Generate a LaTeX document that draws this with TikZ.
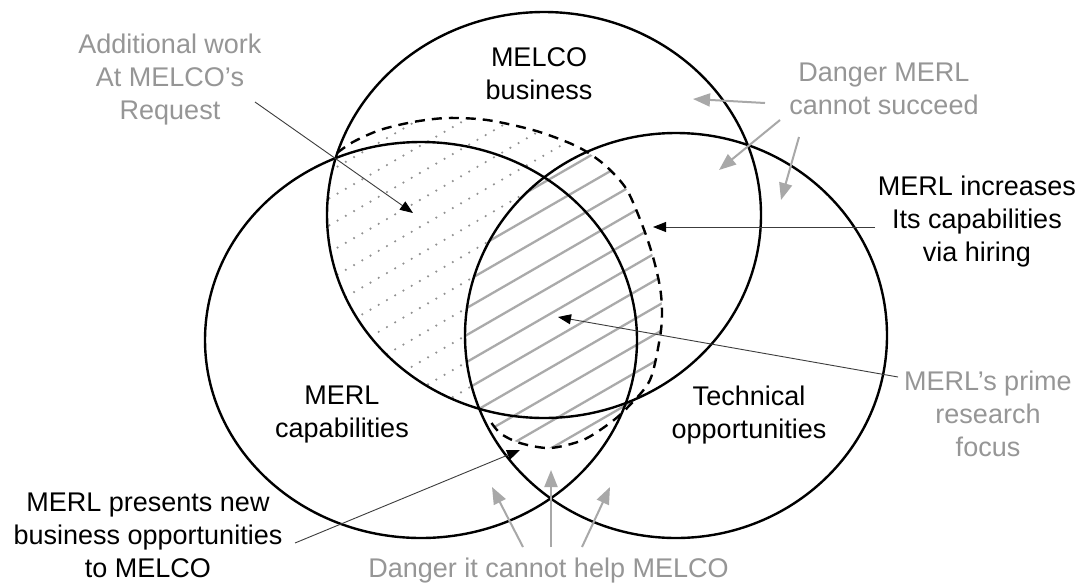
\documentclass[tikz,border=0pt]{standalone}
\usepackage{fontspec}
\setmainfont{Liberation Sans}
\usetikzlibrary{arrows.meta}
\definecolor{hatchgray}{RGB}{170,170,170}
\definecolor{dotgray}{RGB}{145,145,145}
\definecolor{txtgray}{RGB}{150,150,150}
\definecolor{argray}{RGB}{168,168,168}
\definecolor{thinline}{RGB}{60,60,60}
\begin{document}
\begin{tikzpicture}[x=1pt,y=-1pt,
  venn/.style={line width=2.4pt},
  lbl/.style={align=center, inner sep=0pt, font=\fontsize{27}{33}\selectfont},
  glbl/.style={lbl, text=txtgray},
  thinarrow/.style={draw=thinline, line width=0.9pt, -{Triangle[length=13pt,width=10pt,color=black]}},
  grayarrow/.style={draw=argray, line width=2pt, -{Triangle[length=17pt,width=13pt]}},
  hatchline/.style={draw=hatchgray, line width=2.3pt},
  dotline/.style={draw=dotgray, line width=2.4pt, line cap=round, dash pattern=on 0pt off 9.5pt},
  dashline/.style={line width=2.4pt, dash pattern=on 10pt off 7pt},
]
\useasboundingbox (0,0) rectangle (1083,584);
\fill[white] (0,0) rectangle (1083,584);

% dotted hatching: inside dashed region, outside right circle
\begin{scope}[even odd rule]
  \clip (-10,-10) rectangle (1100,600) (676,335.5) ellipse [x radius=211, y radius=202.5];
  \begin{scope}[nonzero rule]
  \clip plot[smooth] coordinates {(337,153) (353,142) (380,130) (413,122) (447,118) (487,120) (533,130) (567,142) (587,152) (607,167) (627,190) (643,227) (653,257) (660,287) (662,312) (660,337) (650,380) (628,407) (610,423) (583,440) (550,448) (520,443) (500,433) (488,418)} -- (495,413) arc[start angle=103, end angle=197, x radius=217, y radius=203] -- cycle;
  \foreach \i in {0,...,18} { \draw[dotline] (280,145.8+27*\i) -- ++(450,-259.8); }
  \end{scope}
\end{scope}
% solid hatching: inside dashed region and inside right circle
\begin{scope}
  \clip (676,335.5) ellipse [x radius=211, y radius=202.5];
  \clip plot[smooth] coordinates {(337,153) (353,142) (380,130) (413,122) (447,118) (487,120) (533,130) (567,142) (587,152) (607,167) (627,190) (643,227) (653,257) (660,287) (662,312) (660,337) (650,380) (628,407) (610,423) (583,440) (550,448) (520,443) (500,433) (488,418)} -- (495,413) arc[start angle=103, end angle=197, x radius=217, y radius=203] -- cycle;
  \foreach \i in {0,...,18} { \draw[hatchline] (280,145.8+27*\i) -- ++(450,-259.8); }
\end{scope}

% dashed boundary
\draw[dashline] plot[smooth] coordinates {(337,153) (353,142) (380,130) (413,122) (447,118) (487,120) (533,130) (567,142) (587,152) (607,167) (627,190) (643,227) (653,257) (660,287) (662,312) (660,337) (650,380) (628,407) (610,423) (583,440) (550,448) (520,443) (500,433) (488,418)};

% circles
\draw[venn] (544,215) ellipse [x radius=217, y radius=203];
\draw[venn] (421,340) ellipse [x radius=216, y radius=198];
\draw[venn] (676,335.5) ellipse [x radius=211, y radius=202.5];

% labels
\node[lbl] (melco) at (539,73.9) {MELCO\\business};
\node[glbl] (addwork) at (170,79.1) {Additional work\\At MELCO's\\Request};
\node[glbl] (dangermerl) at (884,88.9) {Danger MERL\\cannot succeed};
\node[lbl] (hiring) at (977,221.2) {MERL increases\\Its capabilities\\via hiring};
\node[glbl] (prime) at (988,413.4) {MERL's prime\\research\\focus};
\node[lbl] (merlcap) at (342,414.7) {MERL\\capabilities};
\node[lbl] (tech) at (749,414.7) {Technical\\opportunities};
\node[lbl] (presents) at (148,535.4) {MERL presents new\\business opportunities\\to MELCO};
\node[glbl, anchor=base] (dangerhelp) at (548.5,577) {Danger it cannot help MELCO};

% arrow end points
\coordinate (aw0) at (255,102);  \coordinate (aw1) at (413,213);
\coordinate (dm0a) at (765,103); \coordinate (dm1a) at (693,99);
\coordinate (dm0b) at (780,120); \coordinate (dm1b) at (719,170);
\coordinate (dm0c) at (799,137); \coordinate (dm1c) at (781,200);
\coordinate (hi0) at (875,227);  \coordinate (hi1) at (653,227);
\coordinate (pr0) at (898,377);  \coordinate (pr1) at (558,317);
\coordinate (ps0) at (295,543);  \coordinate (ps1) at (520,450);
\coordinate (dh0a) at (523,547); \coordinate (dh1a) at (492,487);
\coordinate (dh0b) at (551,547); \coordinate (dh1b) at (551,470);
\coordinate (dh0c) at (582,547); \coordinate (dh1c) at (610,487);

% arrows
\draw[thinarrow] (aw0) -- (aw1);
\draw[grayarrow] (dm0a) -- (dm1a);
\draw[grayarrow] (dm0b) -- (dm1b);
\draw[grayarrow] (dm0c) -- (dm1c);
\draw[thinarrow] (hi0) -- (hi1);
\draw[thinarrow] (pr0) -- (pr1);
\draw[thinarrow] (ps0) -- (ps1);
\draw[grayarrow] (dh0a) -- (dh1a);
\draw[grayarrow] (dh0b) -- (dh1b);
\draw[grayarrow] (dh0c) -- (dh1c);
\end{tikzpicture}
\end{document}
